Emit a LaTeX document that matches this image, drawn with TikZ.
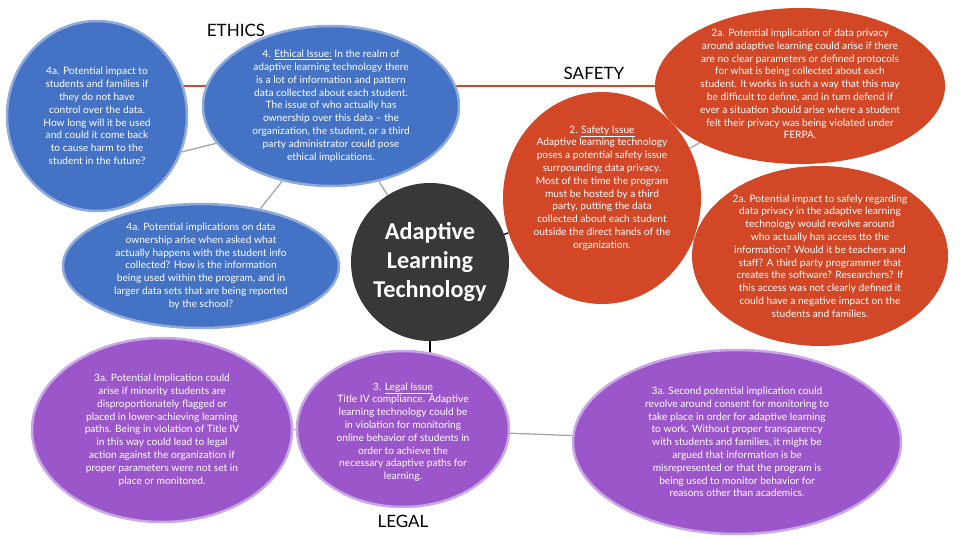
\documentclass[tikz,border=0pt]{standalone}
\usepackage{fontspec}
\setmainfont{Lato}
\newfontfamily\hubfont{Carlito}
\usepackage{xcolor}
\usetikzlibrary{shapes.geometric,backgrounds}
\definecolor{ethblue}{HTML}{4472C4}
\definecolor{ethrim}{HTML}{8FAADC}
\definecolor{safered}{HTML}{D24726}
\definecolor{lawpurple}{HTML}{9B57C9}
\definecolor{lawrim}{HTML}{C9A6E6}
\definecolor{hubgray}{HTML}{383838}
\definecolor{linkgray}{HTML}{A6A6A6}

\begin{document}
\begin{tikzpicture}[x=1pt, y=-1pt,
  every node/.style={font=\fontsize{10.2}{12.8}\selectfont},
  oval/.style n args={2}{ellipse, inner sep=0pt, minimum width=#1, minimum height=#2},
  ethoval/.style={fill=ethblue, draw=ethrim, line width=2.5pt},
  safeoval/.style={fill=safered},
  lawoval/.style={fill=lawpurple, draw=lawrim, line width=2.5pt},
  hub/.style={circle, inner sep=0pt, minimum size=158pt, fill=hubgray},
  txt/.style={text=white, align=center},
  hubtxt/.style={text=white, align=center, font=\hubfont\bfseries\fontsize{24.2}{29}\selectfont},
  head/.style={font=\fontsize{17}{20}\selectfont},
  link/.style={draw=linkgray, line width=1.3pt},
  hublink/.style={draw=black, line width=1.3pt},
  redlink/.style={draw=safered, line width=2.5pt}]
\useasboundingbox (0,0) rectangle (960,540);
\node[oval={180pt}{190pt}, ethoval] (ethleft) at (97,116) {};
\node[oval={256pt}{160pt}, ethoval] (ethics) at (331,106) {};
\node[oval={276pt}{124pt}, ethoval] (ethlow) at (201,266) {};
\node[oval={290pt}{156pt}, safeoval] (privtop) at (800,86) {};
\node[oval={198pt}{212pt}, safeoval] (safety) at (602,198) {};
\node[oval={256pt}{180pt}, safeoval] (privlow) at (820,256) {};
\node[oval={260pt}{184pt}, lawoval] (lawleft) at (162,430) {};
\node[oval={212pt}{156pt}, lawoval] (legal) at (403,429) {};
\node[oval={328pt}{184pt}, lawoval] (lawright) at (737,442) {};
\node[hub] (hub) at (430,262) {};
\node[head] (ethlab) at (236,30) {ETHICS};
\node[head] (safelab) at (594,73) {SAFETY};
\node[head] (lawlab) at (403,521) {LEGAL};
\node[txt] (ethlefttxt) at (ethleft) {4a. Potential impact to\\students and families if\\they do not have\\control over the data.\\How long will it be used\\and could it come back\\to cause harm to the\\student in the future?};
\node[txt] (ethicstxt) at (ethics) {4. \underline{Ethical Issue:} In the realm of\\adaptive learning technology there\\is a lot of information and pattern\\data collected about each student.\\The issue of who actually has\\ownership over this data -- the\\organization, the student, or a third\\party administrator could pose\\ethical implications.};
\node[txt] (ethlowtxt) at (ethlow) {4a. Potential implications on data\\ownership arise when asked what\\actually happens with the student info\\collected? How is the information\\being used within the program, and in\\larger data sets that are being reported\\by the school?};
\node[txt] (privtoptxt) at ([yshift=2pt]privtop) {2a. Potential implication of data privacy\\around adaptive learning could arise if there\\are no clear parameters or defined protocols\\for what is being collected about each\\student. It works in such a way that this may\\be difficult to define, and in turn defend if\\ever a situation should arise where a student\\felt their privacy was being violated under\\FERPA.};
\node[txt] (safetytxt) at ([yshift=10pt]safety) {2. \underline{Safety Issue}\\Adaptive learning technology\\poses a potential safety issue\\surrpounding data privacy.\\Most of the time the program\\must be hosted by a third\\party, putting the data\\collected about each student\\outside the direct hands of the\\organization.};
\node[txt] (privlowtxt) at (privlow) {2a. Potential impact to safely regarding\\data privacy in the adaptive learning\\technology would revolve around\\who actually has access tto the\\information? Would it be teachers and\\staff? A third party programmer that\\creates the software? Researchers? If\\this access was not clearly defined it\\could have a negative impact on the\\students and families.};
\node[txt] (lawlefttxt) at (lawleft) {3a. Potential Implication could\\arise if minority students are\\disproportionately flagged or\\placed in lower-achieving learning\\paths. Being in violation of Title IV\\in this way could lead to legal\\action against the organization if\\proper parameters were not set in\\place or monitored.};
\node[txt] (legaltxt) at ([yshift=-3pt]legal) {3. \underline{Legal Issue}\\Title IV compliance. Adaptive\\learning technology could be\\in violation for monitoring\\online behavior of students in\\order to achieve the\\necessary adaptive paths for\\learning.};
\node[txt] (lawrighttxt) at (lawright) {3a. Second potential implication could\\revolve around consent for monitoring to\\take place in order for adaptive learning\\to work. Without proper transparency\\with students and families, it might be\\argued that information is be\\misrepresented or that the program is\\being used to monitor behavior for\\reasons other than academics.};
\node[hubtxt] (hubtxt) at (hub) {Adaptive\\Learning\\Technology};
\begin{scope}[on background layer]
\draw[redlink] (privtop.west) -- (privtop.west -| ethleft.center);
\draw[link] (ethleft.-23) -- (ethics.198);
\draw[link] (ethics.237) -- (ethlow.44);
\draw[link] (ethics) -- (hub);
\draw[hublink] (hub) -- (safety);
\draw[hublink] (hub.south) -- (legal.center -| hub.south);
\draw[link] (safety) -- (privtop);
\draw[link] (safety.-23) -- (privlow.173);
\draw[link] (legal) -- (lawleft);
\draw[link] (legal) -- (lawright);
\end{scope}
\end{tikzpicture}
\end{document}
